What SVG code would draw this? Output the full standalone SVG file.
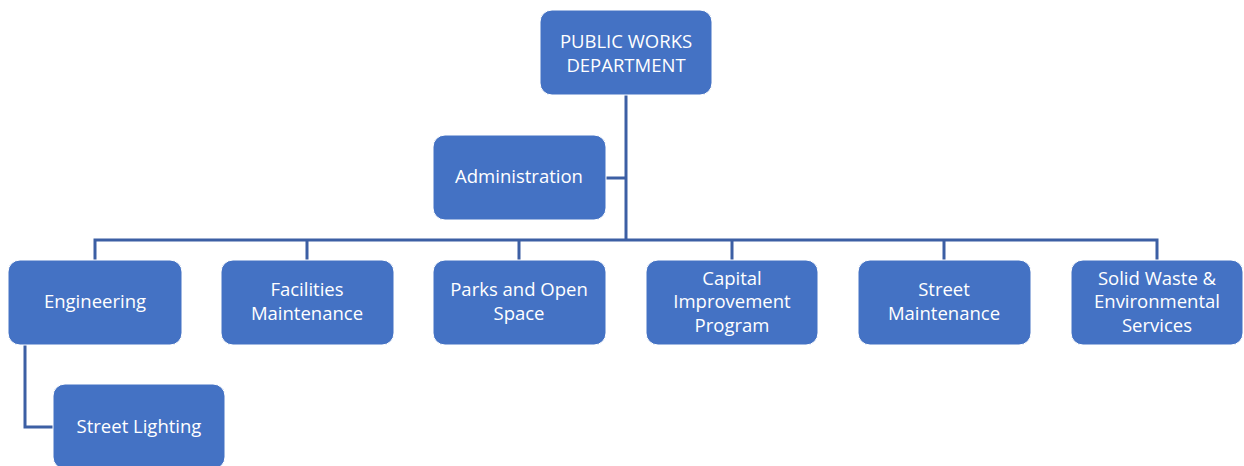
<svg xmlns="http://www.w3.org/2000/svg" width="1244" height="466" viewBox="0 0 1244 466">
<style>
.box{fill:#4472C4;stroke:#ffffff;stroke-width:1}
.t{font-family:"Open Sans","Liberation Sans",sans-serif;font-size:18.5px;fill:#ffffff;text-anchor:middle}
.c{fill:none;stroke:#3C5FA4;stroke-width:3}
</style>
<rect width="1244" height="466" fill="#ffffff"/>
<g id="connectors">
<path class="c" d="M626 95V240"/>
<path class="c" d="M606 178H626"/>
<path class="c" d="M95 260V240H1157V260"/>
<path class="c" d="M307 240V260M519 240V260M732 240V260M944 240V260"/>
<path class="c" d="M25 345V427H53"/>
</g>
<g id="public-works"><rect class="box" x="540" y="10" width="172" height="85" rx="12"/><text class="t" x="626" y="48">PUBLIC WORKS</text><text class="t" x="626" y="72">DEPARTMENT</text></g>
<g id="administration"><rect class="box" x="433" y="135" width="173" height="85" rx="12"/><text class="t" x="519" y="183">Administration</text></g>
<g id="engineering"><rect class="box" x="8" y="260" width="174" height="85" rx="12"/><text class="t" x="95" y="308">Engineering</text></g>
<g id="facilities"><rect class="box" x="221" y="260" width="173" height="85" rx="12"/><text class="t" x="307" y="296">Facilities</text><text class="t" x="307" y="320">Maintenance</text></g>
<g id="parks"><rect class="box" x="433" y="260" width="173" height="85" rx="12"/><text class="t" x="519" y="296">Parks and Open</text><text class="t" x="519" y="320">Space</text></g>
<g id="capital"><rect class="box" x="646" y="260" width="172" height="85" rx="12"/><text class="t" x="732" y="285">Capital</text><text class="t" x="732" y="308">Improvement</text><text class="t" x="732" y="332">Program</text></g>
<g id="street-maintenance"><rect class="box" x="858" y="260" width="173" height="85" rx="12"/><text class="t" x="944" y="296">Street</text><text class="t" x="944" y="320">Maintenance</text></g>
<g id="solid-waste"><rect class="box" x="1071" y="260" width="172" height="85" rx="12"/><text class="t" x="1157" y="285">Solid Waste &amp;</text><text class="t" x="1157" y="308">Environmental</text><text class="t" x="1157" y="332">Services</text></g>
<g id="street-lighting"><rect class="box" x="53" y="384" width="172" height="85" rx="12"/><text class="t" x="139" y="433">Street Lighting</text></g>
</svg>
